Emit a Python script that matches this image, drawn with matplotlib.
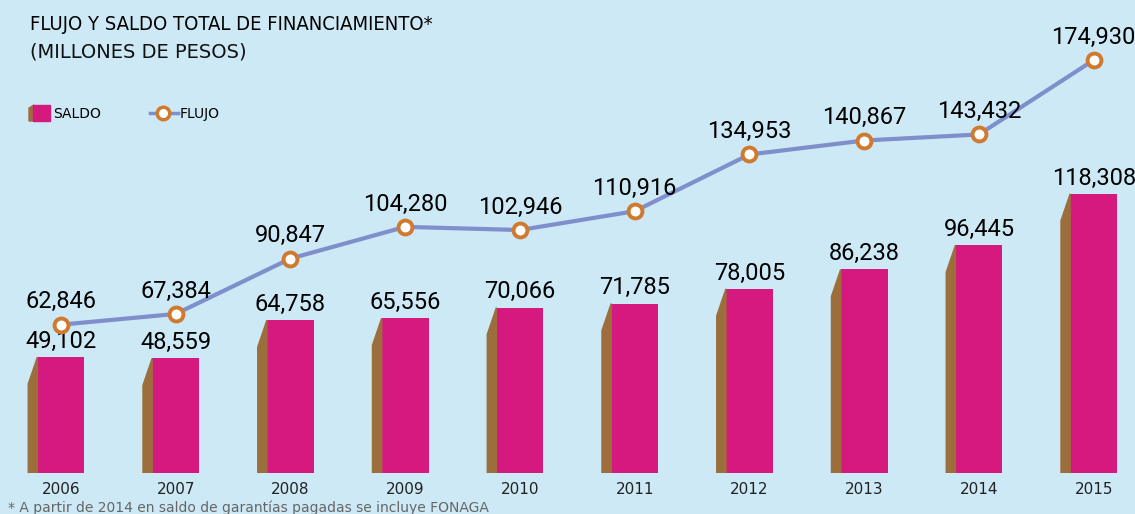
import matplotlib.pyplot as plt
from matplotlib.patches import Polygon
from matplotlib.lines import Line2D

anios = ['2006', '2007', '2008', '2009', '2010', '2011', '2012', '2013', '2014', '2015']
saldo = [49102, 48559, 64758, 65556, 70066, 71785, 78005, 86238, 96445, 118308]
flujo = [62846, 67384, 90847, 104280, 102946, 110916, 134953, 140867, 143432, 174930]

fondo = '#cce9f5'
rosa = '#d6197f'
cafe = '#9c6e3c'
linea = '#7f8fcc'
naranja = '#d07a30'
cond = dict(family=['DejaVu Sans'], fontstretch='condensed')

fig = plt.figure(figsize=(11.35, 5.14), dpi=100, facecolor=fondo)
ax = fig.add_axes([0, 41 / 514, 1, 473 / 514])
ax.set_facecolor(fondo)

x = list(range(len(anios)))
ancho = 0.41
lado = 0.08
caida = 11400

ax.bar(x, saldo, width=ancho, color=rosa, zorder=2)
for xi, v in zip(x, saldo):
    izq = xi - ancho / 2
    ax.add_patch(Polygon([(izq - lado, 0), (izq, 0), (izq, v), (izq - lado, v - caida)],
                         closed=True, color=cafe, zorder=2))
    ax.text(xi, v + 1800, f'{v:,}', ha='center', va='bottom', fontsize=17, color='black', family='Roboto')

ax.plot(x, flujo, color=linea, lw=3, zorder=3)
ax.plot(x, flujo, 'o', ms=10, mfc='white', mec=naranja, mew=2.8, zorder=4)
for xi, v in zip(x, flujo):
    ax.text(xi, v + 4800, f'{v:,}', ha='center', va='bottom', fontsize=17, color='black', family='Roboto')

for xi, a in zip(x, anios):
    ax.text(xi, -4000, a, ha='center', va='top', fontsize=11, color='#222222')

ax.set_xlim(-0.531, 9.36)
ax.set_ylim(0, 200400)
ax.axis('off')

fig.text(30 / 1135, 1 - 24 / 514, 'FLUJO Y SALDO TOTAL DE FINANCIAMIENTO*', fontsize=14.5,
         va='center', ha='left', **cond)
fig.text(30 / 1135, 1 - 52 / 514, '(MILLONES DE PESOS)', fontsize=14, va='center', ha='left',
         color='#111111')

# leyenda
fig.patches.append(Polygon([(29 / 1135, 1 - 121 / 514), (34 / 1135, 1 - 121 / 514),
                            (34 / 1135, 1 - 105 / 514), (29 / 1135, 1 - 108 / 514)],
                           closed=True, color=cafe, transform=fig.transFigure))
fig.patches.append(Polygon([(33 / 1135, 1 - 121 / 514), (50 / 1135, 1 - 121 / 514),
                            (50 / 1135, 1 - 105 / 514), (33 / 1135, 1 - 105 / 514)],
                           closed=True, color=rosa, transform=fig.transFigure))
fig.text(53 / 1135, 1 - 114 / 514, 'SALDO', fontsize=10, va='center', ha='left')
fig.add_artist(Line2D([150 / 1135, 178 / 1135], [1 - 113 / 514, 1 - 113 / 514], color=linea, lw=2.5,
                      transform=fig.transFigure))
fig.add_artist(Line2D([163 / 1135], [1 - 113 / 514], marker='o', ms=9, mfc='white', mec=naranja, mew=2.5,
                      transform=fig.transFigure))
fig.text(180 / 1135, 1 - 114 / 514, 'FLUJO', fontsize=10, va='center', ha='left')

fig.text(8 / 1135, 1 - 508 / 514, '* A partir de 2014 en saldo de garantías pagadas se incluye FONAGA',
         fontsize=10, va='center', ha='left', color='#666666')

fig.savefig('out.png', dpi=100, facecolor=fondo)
